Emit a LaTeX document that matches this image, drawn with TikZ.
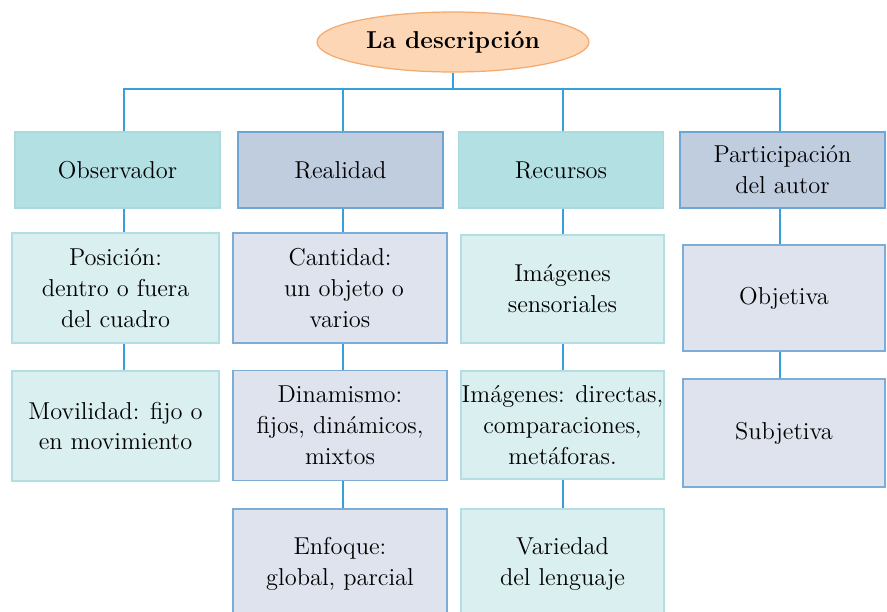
\documentclass[tikz,border=0pt]{standalone}
\usepackage{tikz}
\usetikzlibrary{shapes.geometric}

\definecolor{tealfill}{RGB}{179,224,227}
\definecolor{tealline}{RGB}{168,218,222}
\definecolor{tealpale}{RGB}{218,239,240}
\definecolor{tealpaleline}{RGB}{180,223,226}
\definecolor{greyfill}{RGB}{191,205,222}
\definecolor{greyline}{RGB}{110,165,210}
\definecolor{greypale}{RGB}{222,227,238}
\definecolor{greypaleline}{RGB}{125,172,214}
\definecolor{linkblue}{RGB}{55,160,220}
\definecolor{peach}{RGB}{252,214,181}
\definecolor{peachline}{RGB}{244,170,110}

\begin{document}
\begin{tikzpicture}[x=0.02cm, y=-0.02cm,
    every node/.style={font=\fontsize{13.9}{17.6}\selectfont, align=center, inner sep=0pt},
    head/.style={draw, line width=0.7pt, minimum width=4.1cm, minimum height=1.52cm},
    sub/.style={draw, line width=0.7pt, minimum width=4.1cm, minimum height=2.2cm},
    tealhead/.style={head, fill=tealfill, draw=tealline},
    greyhead/.style={head, fill=greyfill, draw=greyline},
    tealsub/.style={sub, fill=tealpale, draw=tealpaleline},
    greysub/.style={sub, fill=greypale, draw=greypaleline},
    conn/.style={draw=linkblue, line width=0.9pt}]

    % MARGES DE LA FIGURA
    \useasboundingbox (0,0) rectangle (887,612);
    \clip (0,0) rectangle (887,612);

    % TITOL
    \node[ellipse, draw=peachline, fill=peach, line width=0.7pt,
          minimum width=5.44cm, minimum height=1.2cm] (desc) at (453,42)
          {\bfseries La descripción};

    % PRIMER NIVELL
    \node[tealhead] (obs)  at (117.5,170) {Observador};
    \node[greyhead] (real) at (340.5,170) {Realidad};
    \node[tealhead] (rec)  at (561,170)   {Recursos};
    \node[greyhead] (part) at (782.5,170) {Participación\\del autor};

    % OBSERVADOR
    \node[tealsub, minimum width=4.14cm] (obs1) at (115.5,288) {Posición:\\dentro o fuera\\del cuadro};
    \node[tealsub, minimum width=4.14cm] (obs2) at (115.5,426) {Movilidad: fijo o\\en movimiento};

    % REALITAT
    \node[greysub, minimum width=4.28cm] (real1) at (340,288) {Cantidad:\\\ un objeto o\\varios};
    \node[greysub, minimum width=4.28cm] (real2) at (340,425.5) {Dinamismo:\\fijos, dinámicos,\\mixtos};
    \node[greysub, minimum width=4.28cm] (real3) at (340,564) {Enfoque:\\global, parcial};

    % RECURSOS
    \node[tealsub, minimum width=4.06cm, minimum height=2.16cm] (rec1) at (562.5,289) {Imágenes\\sensoriales};
    \node[tealsub, minimum width=4.06cm, minimum height=2.16cm] (rec2) at (562.5,425) {Imágenes: directas,\\comparaciones,\\metáforas.};
    \node[tealsub, minimum width=4.06cm] (rec3) at (562.5,564) {Variedad\\del lenguaje};

    % PARTICIPACIO
    \node[greysub, minimum width=4.04cm, minimum height=2.12cm] (part1) at (784,298) {Objetiva};
    \node[greysub, minimum width=4.04cm, minimum height=2.16cm] (part2) at (784,433) {Subjetiva};

    % CONNECTORS (eixos de cada columna)
    \coordinate (bus) at (453,89);
    \coordinate (cobs) at (124,0);
    \coordinate (creal) at (343,0);
    \coordinate (crec) at (563,0);
    \coordinate (cpart) at (780,0);
    \draw[conn] (desc.south) -- (bus);
    \draw[conn] (obs.north -| cobs) -- (bus -| cobs) -- (bus -| cpart) -- (part.north -| cpart);
    \draw[conn] (real.north -| creal) -- (bus -| creal);
    \draw[conn] (rec.north -| crec) -- (bus -| crec);
    \foreach \a/\b/\c in {obs/obs1/cobs, obs1/obs2/cobs, real/real1/creal, real1/real2/creal,
                          real2/real3/creal, rec/rec1/crec, rec1/rec2/crec, rec2/rec3/crec,
                          part/part1/cpart, part1/part2/cpart} {
        \draw[conn] (\a.south -| \c) -- (\b.north -| \c);
    }

\end{tikzpicture}
\end{document}
